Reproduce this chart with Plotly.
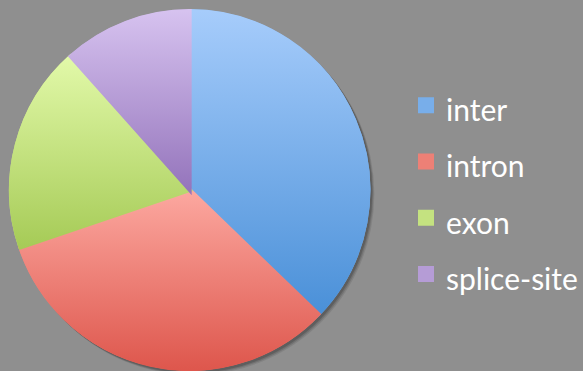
import base64
import math

import plotly.graph_objects as go

# Share of each region type
categories = ["inter", "intron", "exon", "splice-site"]
shares = [37.2, 32.6, 18.6, 11.6]

# light (top) and dark (bottom) ends of each slice's vertical gradient
top_colors = ["#A6CCFB", "#FCA8A0", "#E2F9A9", "#D6C2EF"]
bottom_colors = ["#4A90D8", "#DE574D", "#A6CB57", "#9575BC"]
mid_colors = ["#78AEEA", "#ED8076", "#C4E280", "#B59CD6"]

W, H = 583, 371
bg = "#8F8F8F"

# Pie geometry in pixels: centre and outer radius (including slice outline)
cx, cy, r_out = 190, 190, 181
edge = 4                      # slice outline width (also sizes the legend swatch)
r_dom = r_out - edge / 2      # radius of the pie domain itself

fig = go.Figure()
fig.add_trace(go.Pie(
    labels=[f"<span style='font-size:30px'>{c}</span>" for c in categories],
    values=shares,
    sort=False,
    direction="clockwise",
    rotation=0,
    marker=dict(colors=mid_colors, line=dict(color=mid_colors, width=edge)),
    textinfo="none",
    hoverinfo="label+percent",
    domain=dict(x=[(cx - r_dom) / W, (cx + r_dom) / W],
                y=[1 - (cy + r_dom) / H, 1 - (cy - r_dom) / H]),
))

# Vertical gradient shading for every slice, laid over the pie.
# Wedges follow the same start angle (12 o'clock) and clockwise order.
pad = edge
size = 2 * r_dom + 2 * pad
c0 = size / 2
total = sum(shares)
defs, paths = [], []
ang = 0.0
for i, v in enumerate(shares):
    a0 = ang
    a1 = ang + 2 * math.pi * v / total
    ang = a1
    x0, y0 = c0 + r_dom * math.sin(a0), c0 - r_dom * math.cos(a0)
    x1, y1 = c0 + r_dom * math.sin(a1), c0 - r_dom * math.cos(a1)
    large = 1 if (a1 - a0) > math.pi else 0
    defs.append(
        f'<linearGradient id="g{i}" x1="0" y1="0" x2="0" y2="1">'
        f'<stop offset="0" stop-color="{top_colors[i]}"/>'
        f'<stop offset="1" stop-color="{bottom_colors[i]}"/></linearGradient>'
    )
    paths.append(
        f'<path d="M{c0:.3f},{c0:.3f} L{x0:.3f},{y0:.3f} '
        f'A{r_dom:.3f},{r_dom:.3f} 0 {large} 1 {x1:.3f},{y1:.3f} Z" '
        f'fill="url(#g{i})" stroke="url(#g{i})" stroke-width="{edge}"/>'
    )
svg = (
    f'<svg xmlns="http://www.w3.org/2000/svg" width="{size:.3f}" height="{size:.3f}" '
    f'viewBox="0 0 {size:.3f} {size:.3f}"><defs>{"".join(defs)}</defs>'
    f'{"".join(paths)}</svg>'
)
shade_src = "data:image/svg+xml;base64," + base64.b64encode(svg.encode()).decode()

# soft drop shadow behind the pie
shadow_shapes = []
for off, alpha in [(4, 0.12), (3, 0.18), (2, 0.25)]:
    shadow_shapes.append(dict(
        type="circle", xref="paper", yref="paper", layer="below",
        x0=(cx - r_out + off) / W, x1=(cx + r_out + off) / W,
        y0=1 - (cy + r_out + off) / H, y1=1 - (cy - r_out + off) / H,
        fillcolor=f"rgba(40,40,40,{alpha})", line=dict(width=0),
    ))

fig.update_layout(
    width=W, height=H,
    margin=dict(l=0, r=0, t=0, b=0),
    paper_bgcolor=bg, plot_bgcolor=bg,
    shapes=shadow_shapes,
    images=[dict(
        source=shade_src, xref="paper", yref="paper",
        x=(cx - c0) / W, y=1 - (cy - c0) / H,
        sizex=size / W, sizey=size / H,
        xanchor="left", yanchor="top", sizing="stretch", layer="above",
    )],
    showlegend=True,
    legend=dict(
        x=407 / W, xanchor="left",
        y=1 - 72 / H, yanchor="top",
        font=dict(family="Lato, 'Open Sans', sans-serif", size=41, color="#FFFFFF"),
        bgcolor="rgba(0,0,0,0)",
        traceorder="normal",
    ),
)

fig.write_html("out.html")
